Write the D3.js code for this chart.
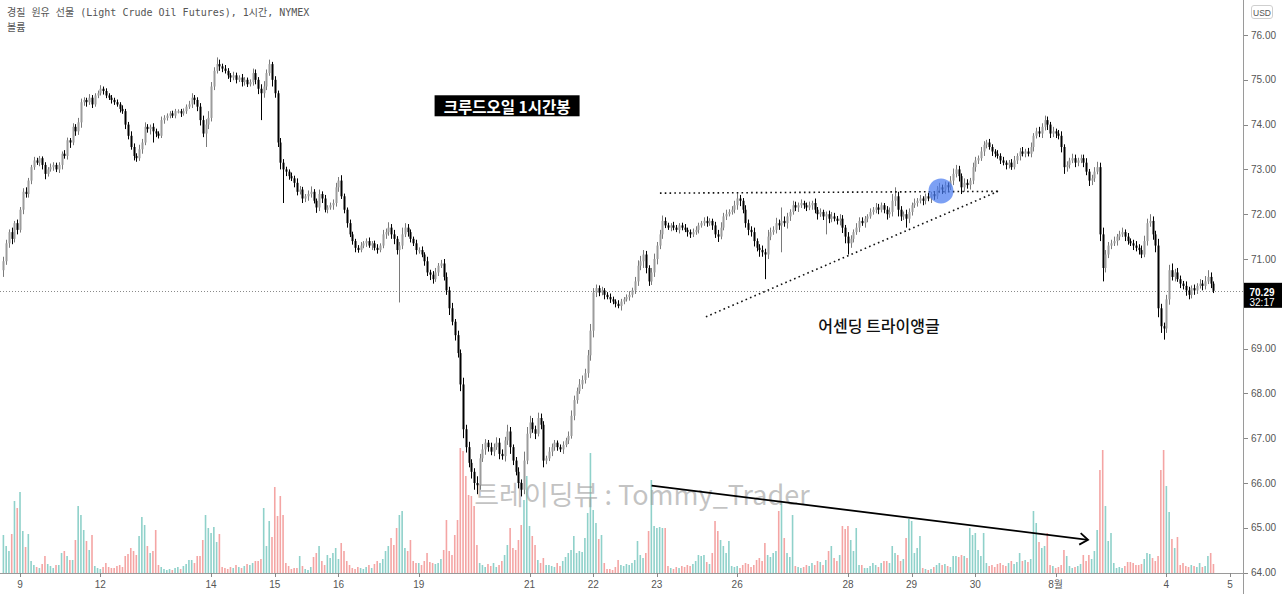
<!DOCTYPE html>
<html><head><meta charset="utf-8">
<script src="https://cdn.jsdelivr.net/npm/d3@7"></script>
<style>html,body{margin:0;padding:0;background:#fff;overflow:hidden}</style>
</head><body><svg id="c" width="1282" height="594"></svg>
<script>
// ---- data (hourly bars) ----
const firstOpen = 70.75;
const closes = [
70.95,71.35,71.6,71.45,71.8,71.65,72.1,72.5,72.45,72.75,
73.05,73.2,73.15,73.25,73.1,72.9,73.0,73.05,73.1,73.0,
73.1,73.35,73.3,73.65,73.6,73.95,73.85,74.05,74.5,74.55,
74.5,74.6,74.45,74.65,74.7,74.8,74.75,74.65,74.6,74.55,
74.5,74.45,74.35,74.3,74.0,73.75,73.5,73.3,73.25,73.45,
73.6,73.95,73.9,73.95,73.85,73.8,73.75,74.1,74.15,74.2,
74.25,74.2,74.3,74.3,74.25,74.3,74.4,74.45,74.6,74.55,
74.4,74.1,73.8,74.0,74.15,74.85,75.2,75.35,75.3,75.25,
75.2,75.1,75.05,75.1,75.0,75.05,74.95,75.0,74.9,74.95,
75.15,75.0,74.8,74.7,74.85,75.15,75.35,75.0,74.7,73.6,
73.15,73.0,72.95,72.85,72.8,72.7,72.5,72.55,72.35,72.4,
72.45,72.5,72.3,72.15,72.45,72.35,72.1,72.15,72.2,72.25,
72.6,72.75,72.4,72.1,71.8,71.55,71.4,71.25,71.2,71.3,
71.35,71.4,71.3,71.35,71.25,71.2,71.3,71.55,71.6,71.7,
71.55,71.45,71.2,71.3,71.55,71.7,71.6,71.45,71.35,71.2,
71.2,71.1,70.95,70.7,70.65,70.55,70.7,70.85,70.9,70.6,
70.3,69.9,69.6,69.3,68.9,68.2,67.2,66.8,66.45,66.25,
66.0,65.95,66.55,66.75,66.9,66.8,66.7,66.8,66.9,66.65,
66.6,66.95,67.15,66.8,66.5,66.25,66.0,65.85,66.5,67.1,
67.35,67.2,67.1,67.45,67.3,66.5,66.55,66.7,66.8,66.9,
66.8,66.75,66.85,66.95,67.05,67.5,67.85,68.05,68.2,68.3,
68.45,68.85,69.4,70.25,70.35,70.25,70.3,70.2,70.15,70.1,
70.05,70.0,69.95,70.05,70.1,70.15,70.2,70.3,70.5,70.85,
70.95,71.1,70.8,70.5,70.7,71.0,71.3,71.55,71.85,71.75,
71.7,71.75,71.7,71.65,71.75,71.7,71.65,71.6,71.55,71.6,
71.65,71.75,71.8,71.85,71.8,71.85,71.75,71.55,71.5,71.7,
71.95,72.0,72.05,72.1,72.2,72.35,72.3,72.1,71.8,71.65,
71.6,71.4,71.25,71.2,71.15,71.1,71.5,71.6,71.65,71.8,
71.75,71.85,71.8,71.95,72.05,72.2,72.15,72.2,72.25,72.2,
72.15,72.2,72.25,72.1,72.0,72.05,71.95,72.0,71.9,71.95,
71.9,71.85,71.9,71.7,71.5,71.35,71.45,71.6,71.7,71.85,
71.8,71.9,71.95,72.05,72.1,72.15,72.1,72.2,72.1,72.0,
72.05,72.3,72.4,72.1,71.95,72.0,71.9,72.05,72.2,72.25,
72.3,72.35,72.3,72.4,72.35,72.45,72.4,72.55,72.6,72.55,
72.65,72.6,72.75,72.9,73.0,72.85,72.6,72.7,72.65,72.75,
73.05,73.2,73.25,73.4,73.55,73.6,73.5,73.4,73.35,73.3,
73.2,73.15,73.1,73.15,73.05,73.2,73.3,73.4,73.35,73.4,
73.35,73.5,73.75,73.85,73.8,73.95,74.1,74.0,73.8,73.85,
73.8,73.75,73.5,73.05,73.1,73.2,73.25,73.15,73.2,73.25,
73.15,72.95,72.75,72.8,72.95,73.05,71.55,70.8,71.1,71.3,
71.35,71.4,71.5,71.55,71.6,71.5,71.4,71.35,71.3,71.25,
71.2,71.1,71.4,71.8,71.85,71.55,71.3,69.9,69.5,69.45,
70.1,70.75,70.6,70.7,70.55,70.45,70.4,70.3,70.2,70.35,
70.3,70.4,70.45,70.4,70.5,70.6,70.45,70.29];
// upper / lower wick lengths in cents
const upWick = [
10,8,6,10,5,8,6,8,10,6, 5,8,6,5,4,6,5,8,6,5, 6,5,8,6,5,8,6,10,8,6, 5,8,6,5,6,8,5,6,5,6,
5,6,5,8,5,6,10,8,6,10, 8,10,6,5,8,6,5,8,6,5, 5,6,5,4,5,6,5,8,10,6, 6,8,10,12,15,10,8,15,10,6,
8,6,5,8,6,5,8,6,5,6, 10,8,6,10,12,8,10,5,8,6, 10,8,6,5,8,6,10,8,6,5, 8,12,6,5,10,6,8,5,6,8,
10,8,12,6,5,8,6,5,6,8, 5,6,8,5,6,8,5,10,8,12, 8,10,6,8,15,10,8,6,5,8, 6,8,5,10,6,8,10,6,8,10,
10,8,12,6,10,8,15,10,12,8, 8,15,10,12,8,6,10,8,12,10, 10,8,15,10,6,8,10,8,20,15, 15,10,8,12,10,8,6,10,8,6,
5,6,8,6,10,12,10,8,12,10, 10,12,15,10,8,6,8,5,6,8, 6,5,8,6,5,6,8,6,10,12, 12,10,8,6,10,12,8,10,12,8,
6,5,8,6,5,6,8,5,6,8, 8,6,5,8,10,6,5,8,10,12, 8,10,6,8,10,12,8,6,10,8, 8,10,6,8,10,8,15,10,8,12,
8,30,10,8,6,10,8,6,8,5, 6,8,5,10,6,8,5,6,8,10, 8,6,10,8,6,10,8,6,10,8, 8,6,5,8,6,10,8,6,5,8,
10,15,20,10,8,6,10,8,6,10, 6,8,5,6,8,5,6,8,10,6, 8,6,10,12,10,8,6,10,8,6, 10,8,6,10,8,6,8,6,5,8,
6,8,5,6,8,10,6,8,10,6, 8,10,6,8,10,8,10,8,6,10, 6,8,10,6,8,6,10,8,6,8, 8,10,6,8,10,12,10,15,10,8,
8,10,6,8,10,6,8,6,8,10, 8,10,12,10,15,10,8,15,10,8, 10,12,15,8,10,8,6,10,8,6, 8,6,10,8,12,15,10,5];
const dnWick = [
15,8,10,12,8,10,6,10,8,8, 8,6,5,8,10,12,6,5,8,6, 8,10,6,8,12,6,10,8,12,8, 10,6,8,5,6,5,8,6,5,8,
6,5,8,6,10,8,6,10,8,6, 10,6,8,12,25,8,6,5,8,6, 6,5,6,5,8,5,6,5,8,10, 10,12,8,30,10,8,8,6,10,8,
6,8,10,6,8,5,10,8,6,5, 8,10,12,60,10,8,6,15,10,10, 15,75,10,8,6,10,8,6,10,8, 10,8,6,12,8,10,6,8,5,10,
8,10,6,8,10,6,8,10,6,5, 6,8,5,10,6,8,5,6,10,8, 10,12,10,117,8,6,10,8,6,10, 8,6,10,8,12,10,6,8,5,8,
10,15,8,12,10,15,20,12,10,15, 15,20,10,8,12,10,8,10,6,12, 8,12,10,15,10,8,12,15,10,8, 10,8,12,6,10,15,8,6,10,8,
8,6,10,5,8,6,10,8,6,10, 8,10,12,15,10,8,6,10,5,8, 6,8,5,10,6,5,8,6,8,10, 10,15,12,10,8,10,12,8,10,6,
5,8,6,5,8,6,5,10,8,6, 6,8,5,6,8,6,10,8,12,6, 6,8,5,6,8,10,12,8,10,12, 10,12,8,15,10,55,10,8,6,8,
10,60,8,12,10,6,8,10,6,8, 8,6,10,8,12,6,8,40,10,8, 6,8,10,12,15,25,10,8,6,10, 6,10,8,5,6,8,10,6,8,12,
8,10,12,15,10,8,20,10,8,6, 8,6,10,8,6,10,8,6,8,10, 10,8,6,10,8,12,15,10,8,10, 8,10,8,6,10,8,6,10,8,6,
8,6,10,8,6,5,8,10,6,8, 6,8,10,6,8,10,8,12,10,8, 10,8,12,15,10,8,6,10,8,6, 10,8,12,10,8,6,15,30,10,8,
8,6,10,8,6,10,8,6,10,8, 10,8,6,10,8,12,15,20,15,25, 10,12,8,10,6,10,8,12,10,8, 10,8,6,10,8,6,10,5];
// volume (thousands of contracts)
const volumes = [
38,27,22,39,72,65,81,42,26,39, 12,8,6,5,9,17,9,7,5,8, 8,20,22,17,13,13,33,67,58,43, 32,23,38,7,5,4,6,10,6,5,
5,7,8,6,17,19,25,22,18,37, 56,48,27,20,22,43,8,6,4,3, 4,3,5,6,4,7,9,13,13,10, 17,17,33,58,45,40,46,31,39,6,
5,4,6,5,8,6,5,7,9,8, 10,12,12,14,65,27,52,36,86,57, 77,58,10,7,4,5,5,17,7,4, 3,6,16,20,27,12,8,18,15,20,
25,14,30,22,12,8,5,4,6,5, 4,6,8,5,9,12,10,14,22,27, 35,28,45,58,62,25,22,33,12,10, 10,8,12,20,11,10,9,10,14,23,
53,22,18,38,53,125,122,97,78,77, 67,28,10,8,6,9,7,10,6,8, 12,18,28,45,25,23,33,48,73,97, 47,37,28,13,10,15,8,8,7,6,
10,7,12,16,20,23,37,20,22,21, 35,60,120,63,50,34,38,10,4,4, 3,6,13,8,7,9,8,10,13,32, 18,15,20,42,93,47,45,46,45,45,
7,5,4,6,5,7,6,8,7,9, 12,18,17,18,11,9,20,52,42,33, 27,20,32,7,6,7,5,8,10,9, 6,8,13,15,12,30,18,16,20,22,
62,72,35,20,16,58,7,6,5,6, 8,7,10,8,12,11,8,13,22,27, 15,12,18,47,44,47,33,22,45,8, 8,5,5,7,10,8,6,10,12,12,
10,27,20,18,12,14,35,54,52,20, 25,37,5,4,3,4,6,8,10,8, 9,7,6,17,17,16,18,17,15,45, 38,40,23,17,40,10,7,8,6,9,
10,8,7,10,12,9,11,20,12,13, 11,14,62,50,31,25,27,40,8,7, 5,6,8,23,17,7,5,6,7,9, 18,12,18,14,22,43,103,123,67,32,
40,10,5,6,5,7,11,11,10,8, 8,9,14,20,19,15,12,17,103,123, 87,61,34,25,36,8,10,7,6,8, 7,6,10,6,7,17,20,9];
const priceTicks = [64,65,66,67,68,69,70,71,72,73,74,75,76];
const dayLabels = ["9","12","14","15","16","19","21","22","23","26","28","29","30","8월","4","5"];
const dayBars   = [6,35,75,98,121,150,190,213,236,265,305,328,351,380,420,443];
const lastPrice = 70.29;
const countdown = "32:17";
const titleLine = "경질 원유 선물 (Light Crude Oil Futures), 1시간, NYMEX";
const volumeLabel = "볼륨";
// drawings (bar index, price)
const resistance = [[237.1,72.47],[359.2,72.51]];
const support    = [[253.7,69.71],[359.2,72.51]];
const breakout   = [338.6,72.52];
const volArrow   = [[234.1,65.94],[391.7,64.73]];
const labelTitle = {bar:181.9, price:74.42, text:"크루드오일 1시간봉"};
const labelTri   = {bar:316.2, price:69.53, text:"어센딩 트라이앵글"};
const watermark  = {bar:230.6, price:65.77, text:"트레이딩뷰 : Tommy_Trader"};

// ---- layout ----
const W = 1282, H = 594, axisX = 1243, axisY = 573;
const svg = d3.select("#c");
const x = d3.scaleLinear().domain([0, 437]).range([3.4, 3.4 + 437*2.769]);
const y = d3.scaleLinear().domain([64, 76]).range([572.6, 35]);
const yv = d3.scaleLinear().domain([0, 125]).range([axisY, axisY - 125]);

const bars = closes.map((c,i)=>{
  const o = i===0 ? firstOpen : closes[i-1];
  return {i, o, c, h: Math.max(o,c) + upWick[i]/100, l: Math.min(o,c) - dnWick[i]/100, v: volumes[i], up: c >= o};
});

svg.append("rect").attr("width",W).attr("height",H).attr("fill","#fff");
svg.append("defs").append("clipPath").attr("id","plot").append("rect")
  .attr("x",0).attr("y",0).attr("width",axisX).attr("height",axisY);
const g = svg.append("g").attr("clip-path","url(#plot)");

// volume
g.append("g").selectAll("rect").data(bars).join("rect")
  .attr("x", d=>x(d.i)-0.8).attr("width",1.6)
  .attr("y", d=>yv(d.v)).attr("height", d=>axisY - yv(d.v))
  .attr("fill", d=> d.up ? "#8fd1ca" : "#f4a5a4");

// watermark
g.append("text").attr("x", x(watermark.bar)).attr("y", y(watermark.price))
  .attr("text-anchor","middle").attr("dominant-baseline","central")
  .attr("font-family","'Noto Sans CJK KR','Noto Sans',sans-serif").attr("font-size",27)
  .attr("fill","#9a9a9a").attr("fill-opacity",0.6).text(watermark.text);

// last price line
g.append("line").attr("x1",0).attr("x2",axisX).attr("y1",Math.round(y(lastPrice))+0.5).attr("y2",Math.round(y(lastPrice))+0.5)
  .attr("stroke","#8a8a8a").attr("stroke-width",1).attr("stroke-dasharray","1,2");

// candles
const cg = g.append("g");
cg.selectAll("line").data(bars).join("line")
  .attr("x1", d=>Math.round(x(d.i))+0.5).attr("x2", d=>Math.round(x(d.i))+0.5)
  .attr("y1", d=>y(d.h)).attr("y2", d=>y(d.l))
  .attr("stroke", d=> d.up ? "#7a7a7a" : "#000").attr("stroke-width",1);
cg.selectAll("rect").data(bars).join("rect")
  .attr("x", d=>Math.round(x(d.i))-0.5).attr("width",2)
  .attr("y", d=>y(Math.max(d.o,d.c)))
  .attr("height", d=>Math.max(1.5, Math.abs(y(d.o)-y(d.c))))
  .attr("fill", d=> d.up ? "#9c9c9c" : "#000");

// drawings
const dl = g.append("g").attr("fill","none");
const line = d3.line().x(p=>x(p[0])).y(p=>y(p[1]));
dl.append("path").attr("d", line(resistance)).attr("stroke","#111").attr("stroke-width",1.6).attr("stroke-dasharray","1.6,3.2");
dl.append("path").attr("d", line(support)).attr("stroke","#111").attr("stroke-width",1.6).attr("stroke-dasharray","1.6,3.2");
g.append("circle").attr("cx", x(breakout[0])).attr("cy", y(breakout[1])).attr("r",12.5)
  .attr("fill","#4a7cf0").attr("fill-opacity",0.72);

// volume arrow
const a0 = [x(volArrow[0][0]), y(volArrow[0][1])], a1 = [x(volArrow[1][0]), y(volArrow[1][1])];
const ang = Math.atan2(a1[1]-a0[1], a1[0]-a0[0]);
const hl = 10, ha = 0.62;
g.append("path").attr("d", `M${a0[0]},${a0[1]}L${a1[0]},${a1[1]}`).attr("stroke","#000").attr("stroke-width",1.8).attr("fill","none");
g.append("path").attr("d",
  `M${a1[0]-hl*Math.cos(ang-ha)},${a1[1]-hl*Math.sin(ang-ha)}L${a1[0]},${a1[1]}L${a1[0]-hl*Math.cos(ang+ha)},${a1[1]-hl*Math.sin(ang+ha)}`)
  .attr("stroke","#000").attr("stroke-width",1.8).attr("fill","none");

// title label box
const tl = g.append("g").attr("transform",`translate(${x(labelTitle.bar)},${y(labelTitle.price)})`);
tl.append("rect").attr("x",-72.5).attr("y",-10.5).attr("width",145).attr("height",21).attr("fill","#000");
tl.append("text").attr("text-anchor","middle").attr("dominant-baseline","central").attr("y",0.5)
  .attr("font-family","'Noto Sans CJK KR',sans-serif").attr("font-weight",700).attr("font-size",15.5)
  .attr("fill","#fff").text(labelTitle.text);
g.append("text").attr("x",x(labelTri.bar)).attr("y",y(labelTri.price))
  .attr("text-anchor","middle").attr("dominant-baseline","central")
  .attr("font-family","'Noto Sans CJK KR',sans-serif").attr("font-weight",500).attr("font-size",16)
  .attr("fill","#111").text(labelTri.text);

// header text
svg.append("text").attr("x",7).attr("y",16).attr("font-family","'DejaVu Sans Mono','Noto Sans CJK KR',monospace")
  .attr("font-size",10).attr("fill","#555").text(titleLine);
svg.append("text").attr("x",7).attr("y",31).attr("font-family","'DejaVu Sans Mono','Noto Sans CJK KR',monospace")
  .attr("font-size",10).attr("fill","#555").text(volumeLabel);

// y axis
svg.append("line").attr("x1",axisX+0.5).attr("x2",axisX+0.5).attr("y1",0).attr("y2",H).attr("stroke","#9a9a9a");
const ya = svg.append("g");
ya.selectAll("line").data(priceTicks).join("line")
  .attr("x1",axisX+1).attr("x2",axisX+5).attr("y1",d=>Math.round(y(d))+0.5).attr("y2",d=>Math.round(y(d))+0.5)
  .attr("stroke","#888");
ya.selectAll("text").data(priceTicks).join("text")
  .attr("x",axisX+8).attr("y",d=>y(d)).attr("dominant-baseline","central")
  .attr("font-family","'Liberation Sans',Arial,sans-serif").attr("font-size",10).attr("fill","#555")
  .text(d=>d3.format(".2f")(d));
// USD box
svg.append("rect").attr("x",1251.5).attr("y",5.5).attr("width",21).attr("height",13).attr("rx",2.5)
  .attr("fill","#fff").attr("stroke","#cfcfcf");
svg.append("text").attr("x",1262).attr("y",12.5).attr("text-anchor","middle").attr("dominant-baseline","central")
  .attr("font-family","'Liberation Sans',Arial,sans-serif").attr("font-size",8.5).attr("fill","#555").text("USD");
// last price tag
const py = y(lastPrice);
svg.append("rect").attr("x",axisX+1).attr("y",py-8).attr("width",W-axisX-1).attr("height",25).attr("fill","#000");
svg.append("text").attr("x",1262).attr("y",py+1.5).attr("text-anchor","middle").attr("dominant-baseline","central")
  .attr("font-family","'Liberation Sans',Arial,sans-serif").attr("font-size",10).attr("font-weight",700).attr("fill","#fff").text(lastPrice.toFixed(2));
svg.append("text").attr("x",1262).attr("y",py+12).attr("text-anchor","middle").attr("dominant-baseline","central")
  .attr("font-family","'Liberation Sans',Arial,sans-serif").attr("font-size",10).attr("fill","#fff").text(countdown);

// x axis
svg.append("line").attr("x1",0).attr("x2",axisX).attr("y1",axisY+0.5).attr("y2",axisY+0.5).attr("stroke","#9a9a9a");
const xa = svg.append("g");
xa.selectAll("line").data(dayBars).join("line")
  .attr("x1",d=>Math.round(x(d))+0.5).attr("x2",d=>Math.round(x(d))+0.5).attr("y1",axisY).attr("y2",axisY+4)
  .attr("stroke","#888");
xa.selectAll("text").data(dayLabels).join("text")
  .attr("x",(d,i)=>x(dayBars[i])).attr("y",584).attr("text-anchor","middle").attr("dominant-baseline","central")
  .attr("font-family","'Liberation Sans','Noto Sans CJK KR',sans-serif").attr("font-size",10).attr("fill","#555")
  .text(d=>d);
</script></body></html>
